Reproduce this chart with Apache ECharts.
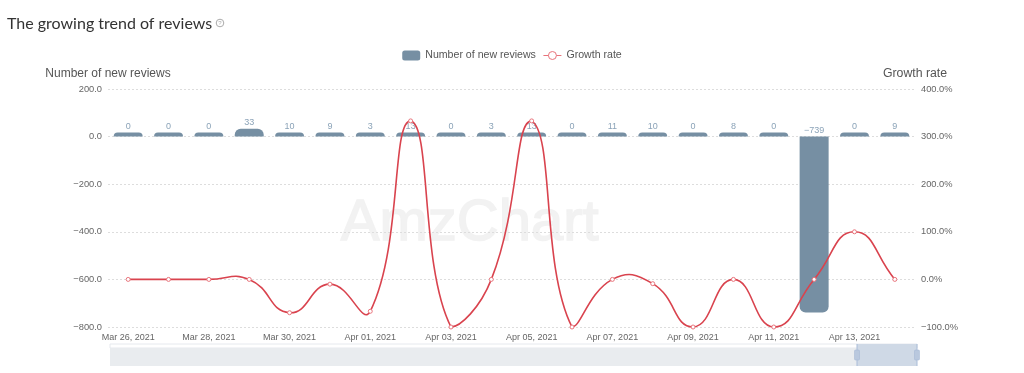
<!DOCTYPE html>
<html><head><meta charset="utf-8">
<style>html,body{margin:0;padding:0;background:#fff}#c{width:1024px;height:373px}</style>
<script src="https://cdn.jsdelivr.net/npm/echarts@6/dist/echarts.min.js"></script>
</head><body><div id="c"></div>
<script>
const categories = ['Mar 26, 2021','Mar 27, 2021','Mar 28, 2021','Mar 29, 2021','Mar 30, 2021','Mar 31, 2021','Apr 01, 2021','Apr 02, 2021','Apr 03, 2021','Apr 04, 2021','Apr 05, 2021','Apr 06, 2021','Apr 07, 2021','Apr 08, 2021','Apr 09, 2021','Apr 10, 2021','Apr 11, 2021','Apr 12, 2021','Apr 13, 2021','Apr 14, 2021'];
const newReviews = [0,0,0,33,10,9,3,13,0,3,13,0,11,10,0,8,0,-739,0,9];
const growthRate = [0,0,0,0,-70,-10,-67,333,-100,0,333,-100,0,-9,-100,0,-100,0,100,0];
const font = '"Liberation Sans", sans-serif';
const RED = '#d9434e';
// Smooth curve between consecutive points, positioned through the chart's axes.
function curveSegment(params, api){
  const i = params.dataIndex;
  if (i >= growthRate.length - 1) return null;
  const pts = growthRate.map((v,k)=>api.coord([k,v]));
  const ys = pts.map(p=>p[1]);
  const lo = Math.min(...ys), hi = Math.max(...ys);
  const clampY = y=>Math.min(hi,Math.max(lo,y));
  const tangent = k=>{
    const p=pts[k], a=pts[Math.max(k-1,0)], b=pts[Math.min(k+1,pts.length-1)];
    const vx=(b[0]-a[0])*0.5, vy=(b[1]-a[1])*0.5;
    const l0=Math.hypot(p[0]-a[0],p[1]-a[1]), l1=Math.hypot(b[0]-p[0],b[1]-p[1]);
    const r=(l0+l1)?l1/(l0+l1):0.5;
    return {out:[p[0]+vx*r,clampY(p[1]+vy*r)], inn:[p[0]-vx*(1-r),clampY(p[1]-vy*(1-r))]};
  };
  const s=pts[i], e=pts[i+1], c0=tangent(i).out, c1=tangent(i+1).inn;
  return {type:'bezierCurve',silent:true,
    shape:{x1:s[0],y1:s[1],x2:e[0],y2:e[1],cpx1:c0[0],cpy1:c0[1],cpx2:c1[0],cpy2:c1[1]},
    style:{stroke:RED,lineWidth:1.6,fill:null}};
}
const chart = echarts.init(document.getElementById('c'));
chart.setOption({
  animation:false,
  textStyle:{fontFamily:font},
  title:{text:'The growing trend of reviews',left:2,top:11,textStyle:{fontFamily:'Lato',fontSize:16,fontWeight:'normal',color:'#333'}},
  legend:{top:45,left:'center',itemWidth:18,itemHeight:10,itemGap:7,textStyle:{fontSize:10.6,color:'#555',fontFamily:font},
    data:['Number of new reviews',{name:'Growth rate',itemStyle:{color:'#fff',borderColor:'#e8737b',borderWidth:1},lineStyle:{color:'#e8737b',width:1,opacity:1}}]},
  grid:{left:108,right:109,top:89,bottom:46},
  xAxis:{type:'category',data:categories,axisTick:{show:false},axisLine:{show:false},
    axisLabel:{interval:1,color:'#666',fontSize:9,margin:6,hideOverlap:false}},
  yAxis:[
    {type:'value',min:-800,max:200,interval:200,name:'Number of new reviews',nameGap:9,nameLocation:'end',
     nameTextStyle:{color:'#555',fontSize:12,align:'center'},
     axisLine:{show:false},axisTick:{show:false},
     axisLabel:{color:'#666',fontSize:9.3,margin:6,formatter:v=>v.toFixed(1).replace('-','−')},
     splitLine:{lineStyle:{type:[2,2],color:'#ddd'}}},
    {type:'value',min:-100,max:400,interval:100,name:'Growth rate',nameGap:9,nameLocation:'end',
     nameTextStyle:{color:'#555',fontSize:12.3,align:'center'},
     axisLine:{show:false},axisTick:{show:false},
     axisLabel:{color:'#666',fontSize:9.3,margin:6,formatter:v=>v.toFixed(1).replace('-','−')+'%'},
     splitLine:{show:false}}
  ],
  series:[
    {name:'Number of new reviews',type:'bar',barWidth:29,barMinHeight:4,
     data:newReviews.map(v=>({value:v,itemStyle:{borderRadius:v<0?[0,0,6,6]:[6,6,0,0]}})),
     itemStyle:{color:'#768fa3'},
     label:{show:true,position:'top',distance:2,fontSize:9,color:'#8ba3b8',formatter:p=>String(p.value).replace('-','−')}},
    {name:'Growth curve',type:'custom',yAxisIndex:1,z:3,silent:true,
     data:growthRate.map((v,k)=>[k,v]),encode:{x:0,y:1},renderItem:curveSegment},
    {name:'Growth rate',type:'line',yAxisIndex:1,z:4,data:growthRate,symbol:'circle',symbolSize:4,
     lineStyle:{opacity:0},
     itemStyle:{color:'#fff',borderColor:'#e8737b',borderWidth:1}}
  ],
  graphic:[
    {type:'text',left:340,top:194,silent:true,z:-1,style:{text:'AmzChart',fill:'#f2f2f2',stroke:'#f2f2f2',lineWidth:1.5,font:'58px "Liberation Sans"'}},
    {type:'circle',shape:{cx:220,cy:23,r:3.8},style:{fill:'none',stroke:'#aaa',lineWidth:1},silent:true},
    {type:'text',x:220,y:23,silent:true,style:{text:'?',fill:'#aaa',font:'6px "Liberation Sans"',align:'center',verticalAlign:'middle'}},
    {type:'rect',shape:{x:110,y:344,width:807,height:4},style:{fill:'#fff',stroke:'#e6e9ee',lineWidth:1},silent:true},
    {type:'rect',shape:{x:110,y:348,width:747,height:18},style:{fill:'#e9ecef'},silent:true},
    {type:'rect',shape:{x:857,y:344,width:60,height:22},style:{fill:'#cfd9e6'},silent:true},
    {type:'line',shape:{x1:857,y1:344,x2:857,y2:366},style:{stroke:'#a9bcd8',lineWidth:1},silent:true},
    {type:'line',shape:{x1:917,y1:344,x2:917,y2:366},style:{stroke:'#a9bcd8',lineWidth:1},silent:true},
    {type:'rect',shape:{x:854.5,y:350,width:5,height:10,r:1},style:{fill:'#b9c8de',stroke:'#a0b4d2',lineWidth:0.5},silent:true},
    {type:'rect',shape:{x:914.5,y:350,width:5,height:10,r:1},style:{fill:'#b9c8de',stroke:'#a0b4d2',lineWidth:0.5},silent:true}
  ]
});
</script></body></html>
